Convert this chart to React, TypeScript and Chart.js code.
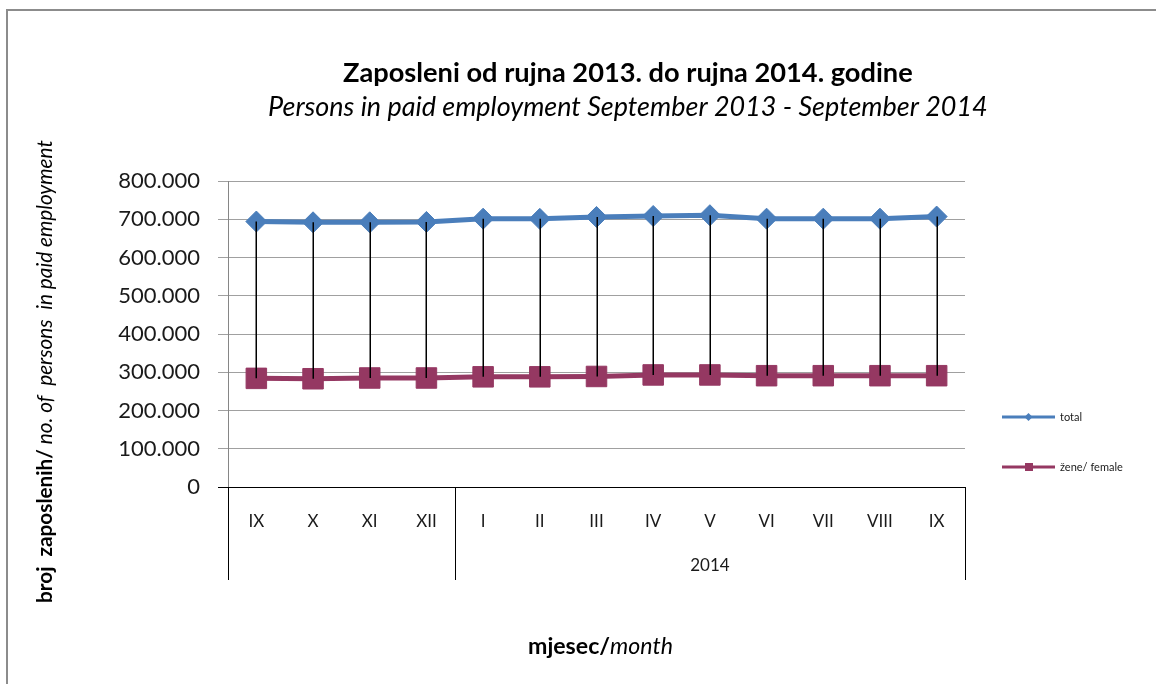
import React, { useEffect, useRef } from "react";
import { Chart, registerables } from "chart.js";

Chart.register(...registerables);

const months = ["IX", "X", "XI", "XII", "I", "II", "III", "IV", "V", "VI", "VII", "VIII", "IX"];
const yearLabels = ["", "2014"];
const yearGroupStart = [0, 4];
const yearGroupEnd = [3, 12];
const totalValues = [694000, 692000, 692000, 693000, 701500, 701000, 706000, 708500, 710500, 701500, 701500, 701500, 707000];
const femaleValues = [284000, 283000, 285000, 285000, 288000, 288000, 289000, 293000, 293000, 291000, 291000, 291000, 291000];
const seriesNames = ["total", "žene/ female"];
const yTicks = [0, 100000, 200000, 300000, 400000, 500000, 600000, 700000, 800000];

const BLUE = "#4a7ebb";
const MAROON = "#953862";
const FAMILY = "Lato, 'Open Sans', sans-serif";
const TEXT = "#1a1a1a";

function fmt(v: number): string {
  if (v === 0) return "0";
  const s = String(Math.round(v));
  return s.replace(/\B(?=(\d{3})+(?!\d))/g, ".");
}

function fitSize(ctx: CanvasRenderingContext2D, parts: { text: string; style: string }[], base: number, target: number) {
  let w = 0;
  for (const p of parts) {
    ctx.font = `${p.style} ${base}px ${FAMILY}`;
    w += ctx.measureText(p.text).width;
  }
  return (base * target) / w;
}

function drawParts(ctx: CanvasRenderingContext2D, parts: { text: string; style: string }[], size: number, x: number, y: number) {
  let cx = x;
  ctx.textAlign = "left";
  ctx.textBaseline = "middle";
  for (const p of parts) {
    ctx.font = `${p.style} ${size}px ${FAMILY}`;
    ctx.fillText(p.text, cx, y);
    cx += ctx.measureText(p.text).width;
  }
}

const decor = {
  id: "decor",
  beforeDraw(chart: any) {
    const ctx = chart.ctx as CanvasRenderingContext2D;
    ctx.save();
    ctx.fillStyle = "#fff";
    ctx.fillRect(0, 0, chart.width, chart.height);
    ctx.strokeStyle = "#8c8c8c";
    ctx.lineWidth = 2;
    ctx.beginPath();
    ctx.moveTo(7, chart.height);
    ctx.lineTo(7, 10);
    ctx.lineTo(chart.width, 10);
    ctx.stroke();
    ctx.restore();
  },
  afterDatasetsDraw(chart: any) {
    const ctx = chart.ctx as CanvasRenderingContext2D;
    const xs = chart.scales.x;
    const ys = chart.scales.y;
    ctx.save();
    ctx.strokeStyle = "#000";
    ctx.lineWidth = 1.5;
    for (let i = 0; i < months.length; i++) {
      const x = Math.round(xs.getPixelForValue(i)) + 0.25;
      ctx.beginPath();
      ctx.moveTo(x, ys.getPixelForValue(totalValues[i]));
      ctx.lineTo(x, ys.getPixelForValue(femaleValues[i]));
      ctx.stroke();
    }
    ctx.restore();
  },
  afterDraw(chart: any) {
    const ctx = chart.ctx as CanvasRenderingContext2D;
    const xs = chart.scales.x;
    const area = chart.chartArea;
    ctx.save();
    ctx.fillStyle = "#000";

    // Titles
    const t1 = [{ text: "Zaposleni od rujna 2013. do rujna 2014. godine", style: "bold" }];
    drawParts(ctx, t1, fitSize(ctx, t1, 22, 570), 343, 73);
    const t2 = [{ text: "Persons in paid employment September 2013 - September 2014", style: "italic" }];
    drawParts(ctx, t2, fitSize(ctx, t2, 20, 720), 268, 107);

    // X axis title
    const xt = [
      { text: "mjesec/", style: "bold" },
      { text: "month", style: "italic" },
    ];
    drawParts(ctx, xt, fitSize(ctx, xt, 18, 145), 528, 647);

    // Y axis title
    const yt = [
      { text: "broj  zaposlenih/", style: "bold" },
      { text: " no. of  persons  in paid employment", style: "italic" },
    ];
    const ys = fitSize(ctx, yt, 16, 463);
    ctx.save();
    ctx.translate(45, 603);
    ctx.rotate(-Math.PI / 2);
    drawParts(ctx, yt, ys, 0, 0);
    ctx.restore();

    // Group (year) row of the category axis
    ctx.strokeStyle = "#000";
    ctx.lineWidth = 1;
    const bottom = area.bottom;
    const seps: number[] = [area.left];
    for (let g = 0; g < yearLabels.length - 1; g++) {
      seps.push((xs.getPixelForValue(yearGroupEnd[g]) + xs.getPixelForValue(yearGroupStart[g + 1])) / 2);
    }
    seps.push(area.right);
    for (const sx of seps) {
      const px = Math.round(sx) + 0.5;
      ctx.beginPath();
      ctx.moveTo(px, bottom);
      ctx.lineTo(px, bottom + 93);
      ctx.stroke();
    }
    ctx.fillStyle = TEXT;
    ctx.font = `17px ${FAMILY}`;
    ctx.textAlign = "center";
    ctx.textBaseline = "middle";
    for (let g = 0; g < yearLabels.length; g++) {
      if (!yearLabels[g]) continue;
      const cx = (seps[g] + seps[g + 1]) / 2;
      ctx.fillText(yearLabels[g], cx, 566);
    }

    // Legend
    const items = [
      { name: seriesNames[0], color: BLUE, y: 417, shape: "diamond" },
      { name: seriesNames[1], color: MAROON, y: 467, shape: "square" },
    ];
    for (const it of items) {
      ctx.strokeStyle = it.color;
      ctx.fillStyle = it.color;
      ctx.lineWidth = 3;
      ctx.beginPath();
      ctx.moveTo(1002, it.y);
      ctx.lineTo(1055, it.y);
      ctx.stroke();
      ctx.beginPath();
      if (it.shape === "diamond") {
        ctx.moveTo(1028.5 - 4, it.y);
        ctx.lineTo(1028.5, it.y - 4);
        ctx.lineTo(1028.5 + 4, it.y);
        ctx.lineTo(1028.5, it.y + 4);
        ctx.closePath();
      } else {
        ctx.rect(1025, it.y - 4, 8, 8);
      }
      ctx.fill();
      ctx.fillStyle = TEXT;
      ctx.font = `11px ${FAMILY}`;
      ctx.textAlign = "left";
      ctx.textBaseline = "middle";
      ctx.fillText(it.name, 1060, it.y);
    }
    ctx.restore();
  },
};

export default function App() {
  const ref = useRef<HTMLCanvasElement | null>(null);
  useEffect(() => {
    document.body.style.margin = "0";
    const canvas = ref.current;
    if (!canvas) return;
    const chart = new Chart(canvas, {
      type: "line",
      data: {
        labels: months,
        datasets: [
          {
            label: seriesNames[0],
            data: totalValues,
            borderColor: BLUE,
            backgroundColor: BLUE,
            borderWidth: 5,
            pointStyle: "rectRot",
            pointRadius: 10.5,
            pointBorderWidth: 1,
            pointBorderColor: BLUE,
            pointBackgroundColor: BLUE,
            tension: 0,
          },
          {
            label: seriesNames[1],
            data: femaleValues,
            borderColor: MAROON,
            backgroundColor: MAROON,
            borderWidth: 5,
            pointStyle: "rect",
            pointRadius: 14.5,
            pointBorderWidth: 1,
            pointBorderColor: MAROON,
            pointBackgroundColor: MAROON,
            tension: 0,
          },
        ],
      },
      options: {
        responsive: false,
        animation: false,
        devicePixelRatio: 1,
        layout: { padding: { left: 0, top: 181, right: 191, bottom: 0 } },
        plugins: {
          legend: { display: false },
          title: { display: false },
          tooltip: { enabled: false },
        },
        scales: {
          x: {
            type: "category",
            offset: true,
            grid: { display: false, drawTicks: false },
            border: { display: true, color: "#000", width: 1 },
            ticks: {
              color: TEXT,
              font: { family: FAMILY, size: 17 },
              padding: 24,
              maxRotation: 0,
              autoSkip: false,
            },
            afterFit: (s: any) => {
              s.height = 197;
            },
          },
          y: {
            min: 0,
            max: 800000,
            afterBuildTicks: (s: any) => {
              s.ticks = yTicks.map((v) => ({ value: v }));
            },
            grid: {
              color: (c: any) => (c.tick && c.tick.value === 0 ? "#000" : "#a0a0a0"),
              tickLength: 10,
              lineWidth: 1,
            },
            border: { display: true, color: "#868686", width: 1 },
            ticks: {
              color: TEXT,
              font: { family: FAMILY, size: 22 },
              padding: 18,
              callback: (v: any) => fmt(Number(v)),
            },
            afterFit: (s: any) => {
              s.width = 228;
            },
          },
        },
      },
      plugins: [decor],
    });
    return () => chart.destroy();
  }, []);
  return (
    <div style={{ width: 1156, height: 684 }}>
      <canvas ref={ref} width={1156} height={684} />
    </div>
  );
}
